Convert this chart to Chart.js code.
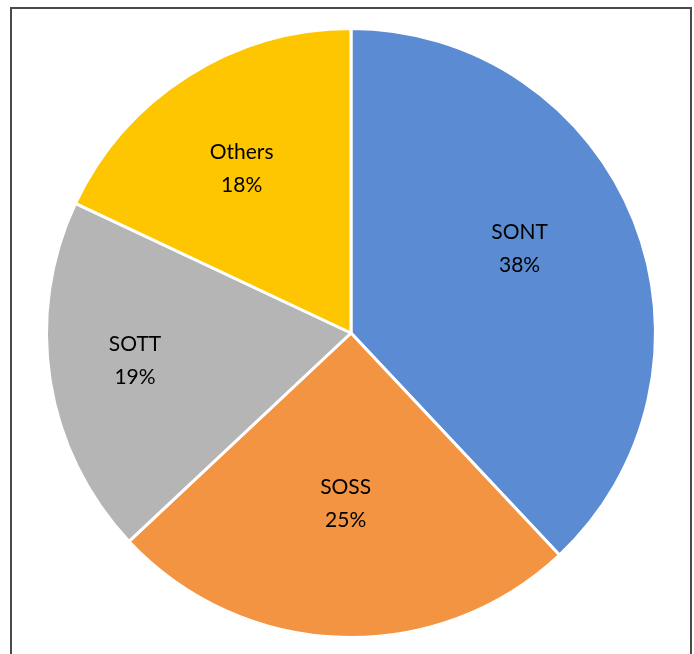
<!DOCTYPE html>
<html>
<head>
<meta charset="utf-8">
<script src="https://cdn.jsdelivr.net/npm/chart.js@4/dist/chart.umd.min.js"></script>
<style>
html,body{margin:0;padding:0;background:#fff;}
#wrap{position:relative;width:694px;height:654px;}
</style>
</head>
<body>
<div id="wrap"><canvas id="c"></canvas></div>
<script>
const categories = ["SONT", "SOSS", "SOTT", "Others"];
const shares = [38, 25, 19, 18];
const pctLabels = ["38%", "25%", "19%", "18%"];
const sliceColors = ["#5b8bd2", "#f39442", "#b5b5b5", "#fec600"];

const labelPlugin = {
  id: 'sliceLabels',
  afterDatasetsDraw(chart, args, opts) {
    const ctx = chart.ctx;
    const meta = chart.getDatasetMeta(0);
    ctx.save();
    ctx.font = '21px Lato, "Gill Sans", sans-serif';
    ctx.fillStyle = '#000';
    ctx.textAlign = 'center';
    ctx.textBaseline = 'middle';
    meta.data.forEach((arc, i) => {
      const mid = (arc.startAngle + arc.endAngle) / 2 + (opts.angleShift[i] || 0);
      const r = arc.outerRadius * opts.radiusFrac[i];
      const x = arc.x + Math.cos(mid) * r;
      const y = arc.y + Math.sin(mid) * r;
      ctx.fillText(categories[i], x, y - 16);
      ctx.fillText(pctLabels[i], x, y + 17);
    });
    ctx.restore();
  }
};

const framePlugin = {
  id: 'frame',
  beforeDraw(chart) {
    const ctx = chart.ctx;
    ctx.save();
    ctx.fillStyle = '#fff';
    ctx.fillRect(0, 0, chart.width, chart.height);
    ctx.strokeStyle = '#4a4a4a';
    ctx.lineWidth = 2;
    ctx.beginPath();
    ctx.moveTo(11, 660);
    ctx.lineTo(11, 8);
    ctx.lineTo(691, 8);
    ctx.lineTo(691, 660);
    ctx.stroke();
    ctx.restore();
  }
};

new Chart(document.getElementById('c'), {
  type: 'pie',
  data: {
    labels: categories,
    datasets: [{
      data: shares,
      backgroundColor: sliceColors,
      borderColor: '#ffffff',
      borderWidth: 3
    }]
  },
  options: {
    responsive: true,
    maintainAspectRatio: false,
    animation: false,
    layout: { padding: { top: 27, bottom: 15, left: 45, right: 37 } },
    plugins: {
      legend: { display: false },
      tooltip: { enabled: false },
      sliceLabels: {
        radiusFrac: [0.62, 0.56, 0.715, 0.65],
        angleShift: [-0.09, 0.0, 0.03, -0.02]
      }
    }
  },
  plugins: [framePlugin, labelPlugin]
});
</script>
</body>
</html>
